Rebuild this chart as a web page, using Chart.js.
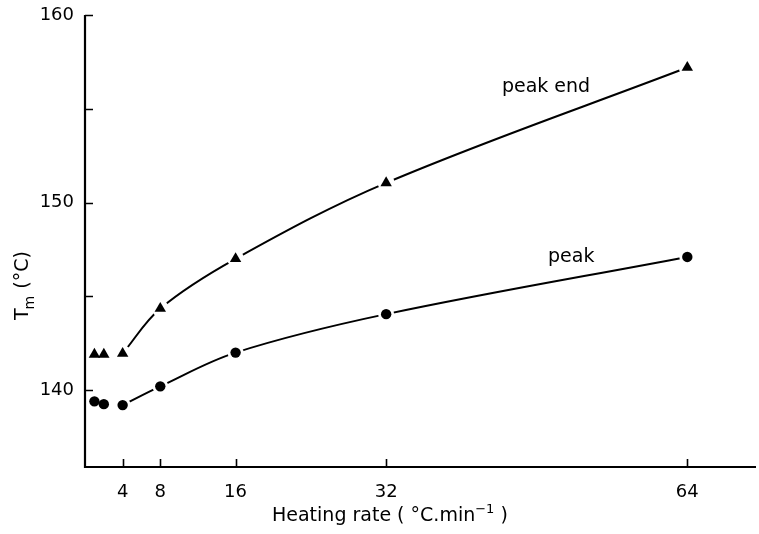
<!DOCTYPE html>
<html>
<head>
<meta charset="utf-8">
<script src="https://cdn.jsdelivr.net/npm/chart.js@4.4.1/dist/chart.umd.min.js"></script>
<style>
  html, body { margin: 0; padding: 0; background: #fff; overflow: hidden; }
  #wrap { width: 759px; height: 534px; position: relative; }
  canvas { display: block; }
</style>
</head>
<body>
<div id="wrap"><canvas id="grafica"></canvas></div>
<script>
// datos
const rates = [1, 2, 4, 8, 16, 32, 64];
const peak = [139.4, 139.25, 139.2, 140.2, 142.0, 144.05, 147.1];
const peakEnd = [141.9, 141.9, 141.95, 144.35, 147.0, 151.05, 157.2];
const curveFrom = 4; // la curva empieza en 4 °C/min
const xTicks = [4, 8, 16, 32, 64];
const yTicks = [140, 150, 160];
const yMinor = [145, 155];

const FONT = '"DejaVu Sans", sans-serif';

const pts = (arr) => rates.map((r, i) => ({ x: r, y: arr[i] }));
const curve = (arr) => pts(arr).filter(p => p.x >= curveFrom);

// sin relleno extra de las escalas, el area la fija layout.padding
const noPad = (s) => {
    s.paddingTop = 0; s.paddingBottom = 0;
    s.paddingLeft = 0; s.paddingRight = 0;
};

// ejes, marcas hacia dentro, titulos y rotulos
const axesPlugin = {
    id: 'axes',
    afterDatasetsDraw(chart) {
        const ctx = chart.ctx;
        const xs = chart.scales.x, ys = chart.scales.y;
        const a = chart.chartArea;
        ctx.save();
        ctx.strokeStyle = '#000';
        ctx.lineWidth = 2.2;
        ctx.beginPath();
        ctx.moveTo(a.left, a.top);
        ctx.lineTo(a.left, a.bottom);
        ctx.lineTo(a.right, a.bottom);
        ctx.stroke();

        ctx.lineWidth = 1.6;
        ctx.beginPath();
        xTicks.forEach(v => {
            const px = Math.round(xs.getPixelForValue(v)) + 0.5;
            ctx.moveTo(px, a.bottom);
            ctx.lineTo(px, a.bottom - 8);
        });
        yTicks.concat(yMinor).forEach(v => {
            const py = Math.round(ys.getPixelForValue(v)) + 0.5;
            ctx.moveTo(a.left, py);
            ctx.lineTo(a.left + 8, py);
        });
        ctx.stroke();

        ctx.fillStyle = '#000';
        // rotulos de las curvas
        ctx.font = '19px ' + FONT;
        ctx.textAlign = 'left';
        ctx.textBaseline = 'alphabetic';
        ctx.fillText('peak end', xs.getPixelForValue(44.3), ys.getPixelForValue(155.9));
        ctx.fillText('peak', xs.getPixelForValue(49.2), ys.getPixelForValue(146.85));

        // titulo eje x
        ctx.font = '19px ' + FONT;
        let x = 272;
        const base = 521;
        const t1 = 'Heating rate ( \u00B0C.min';
        ctx.fillText(t1, x, base);
        x += ctx.measureText(t1).width;
        ctx.font = '13px ' + FONT;
        ctx.fillText('\u22121', x, base - 8);
        x += ctx.measureText('\u22121').width;
        ctx.font = '19px ' + FONT;
        ctx.fillText(' )', x, base);

        // titulo eje y (rotado)
        ctx.translate(28, 320);
        ctx.rotate(-Math.PI / 2);
        ctx.font = '19px ' + FONT;
        ctx.fillText('T', 0, 0);
        let w = ctx.measureText('T').width;
        ctx.font = '14px ' + FONT;
        ctx.fillText('m', w - 1, 6);
        w += ctx.measureText('m').width;
        ctx.font = '19px ' + FONT;
        ctx.fillText(' (\u00B0C)', w, 0);
        ctx.restore();
    }
};

const lineStyle = {
    showLine: true, borderColor: '#000', borderWidth: 2,
    tension: 0.35, pointRadius: 0, order: 3
};
// halo blanco que corta la linea junto a cada marca
const haloStyle = {
    showLine: false, backgroundColor: '#fff', borderWidth: 0,
    pointStyle: 'circle', pointRadius: 8.5, order: 2
};

new Chart(document.getElementById('grafica'), {
    type: 'scatter',
    data: {
        datasets: [
            Object.assign({ data: curve(peakEnd) }, lineStyle),
            Object.assign({ data: curve(peak) }, lineStyle),
            Object.assign({ data: curve(peakEnd) }, haloStyle),
            Object.assign({ data: curve(peak) }, haloStyle, { pointRadius: 8 }),
            { data: pts(peakEnd), pointStyle: 'triangle', pointRadius: 6.6, backgroundColor: '#000',
              borderWidth: 0, showLine: false, order: 1 },
            { data: pts(peak), pointStyle: 'circle', pointRadius: 5.2, backgroundColor: '#000',
              borderWidth: 0, showLine: false, order: 1 }
        ]
    },
    options: {
        responsive: true,
        maintainAspectRatio: false,
        animation: false,
        events: [],
        layout: { autoPadding: false, padding: { top: 15, right: 3, left: 0, bottom: 0 } },
        plugins: { legend: { display: false }, tooltip: { enabled: false } },
        scales: {
            x: {
                type: 'linear', min: 0, max: 71.3,
                grid: { display: false, drawTicks: false },
                border: { display: false },
                afterBuildTicks: (s) => { s.ticks = xTicks.map(v => ({ value: v })); },
                afterFit: (s) => { s.height = 67; noPad(s); },
                ticks: { color: '#000', padding: 15, font: { family: FONT, size: 18 } }
            },
            y: {
                type: 'linear', min: 135.9, max: 160,
                grid: { display: false, drawTicks: false },
                border: { display: false },
                afterBuildTicks: (s) => { s.ticks = yTicks.map(v => ({ value: v })); },
                afterFit: (s) => { s.width = 85; noPad(s); },
                ticks: { color: '#000', padding: 11, font: { family: FONT, size: 18 } }
            }
        }
    },
    plugins: [axesPlugin]
});
</script>
</body>
</html>
